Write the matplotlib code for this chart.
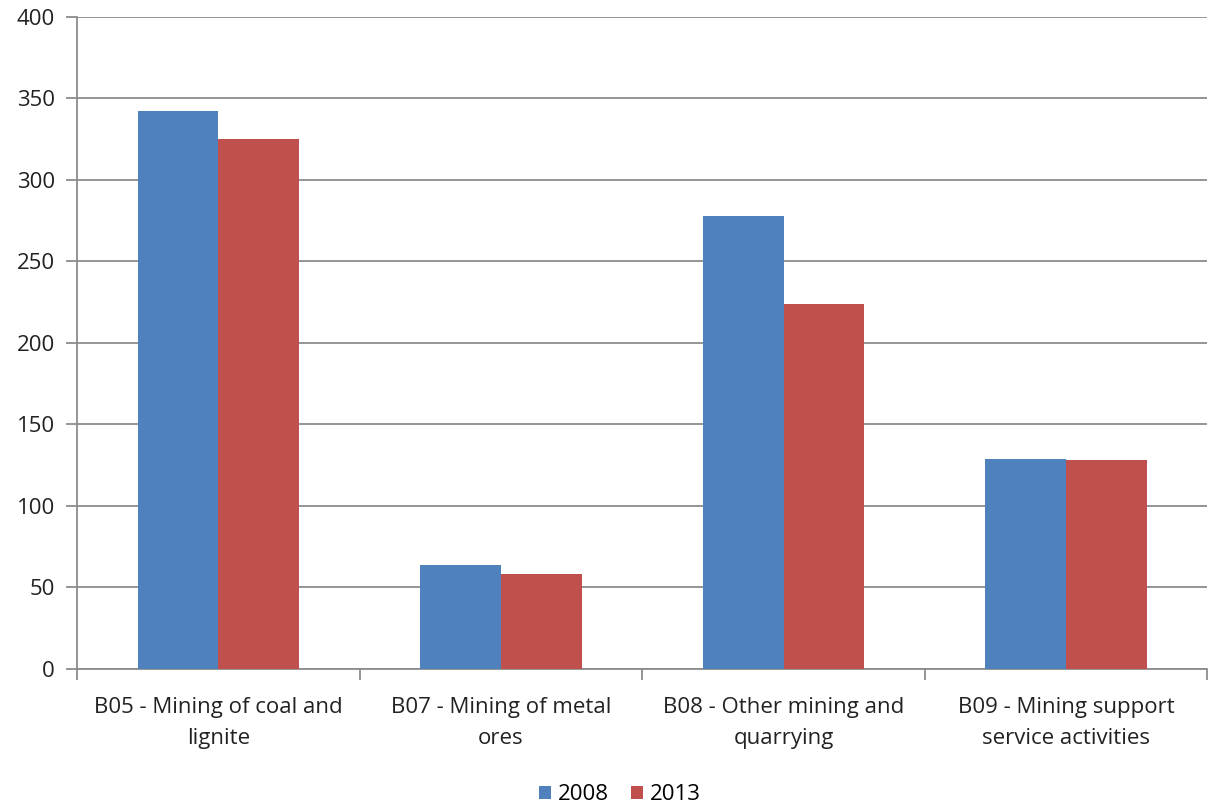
import matplotlib
matplotlib.use("Agg")
import matplotlib.pyplot as plt
import numpy as np

categories = [
    "B05 - Mining of coal and\nlignite",
    "B07 - Mining of metal\nores",
    "B08 - Other mining and\nquarrying",
    "B09 - Mining support\nservice activities",
]
years = ["2008", "2013"]
values_2008 = [342, 64, 278, 129]
values_2013 = [325, 58, 224, 128]
colors = ["#4F81BD", "#C0504D"]

plt.rcParams["font.family"] = ["Open Sans", "DejaVu Sans"]

fig = plt.figure(figsize=(12.09, 8.06), dpi=100)
ax = fig.add_axes([0.0637, 0.170, 0.935, 0.809])

x = np.arange(len(categories))
w = 1 / 3.5  # excel-style gap width 150%
ax.bar(x - w / 2, values_2008, w, color=colors[0], label=years[0], zorder=3)
ax.bar(x + w / 2, values_2013, w, color=colors[1], label=years[1], zorder=3)

ax.set_ylim(0, 400)
ax.set_xlim(-0.5, len(categories) - 0.5)
ax.set_yticks(np.arange(0, 401, 50))
ax.yaxis.grid(True, color="#8c8c8c", lw=1.3, zorder=0)
ax.set_axisbelow(True)

for s in ["top", "right"]:
    ax.spines[s].set_visible(False)
for s in ["left", "bottom"]:
    ax.spines[s].set_color("#8c8c8c")
    ax.spines[s].set_linewidth(1.3)

ax.tick_params(axis="y", length=8, width=1.3, color="#8c8c8c",
               labelsize=16, labelcolor="#222222", pad=8)
ax.set_xticks(x)
ax.set_xticklabels(categories, fontsize=16, color="#222222", linespacing=1.65)
ax.tick_params(axis="x", length=0, pad=20)
ax.set_xticks(np.arange(-0.5, len(categories), 1.0), minor=True)
ax.tick_params(axis="x", which="minor", length=8, width=1.3, color="#8c8c8c")

ax.legend(loc="lower center", bbox_to_anchor=(0.48, -0.24), ncol=2, frameon=False,
          fontsize=16, handlelength=0.55, handleheight=0.55, handletextpad=0.3,
          columnspacing=1.0)

fig.savefig("out.png", dpi=100, facecolor="white")
